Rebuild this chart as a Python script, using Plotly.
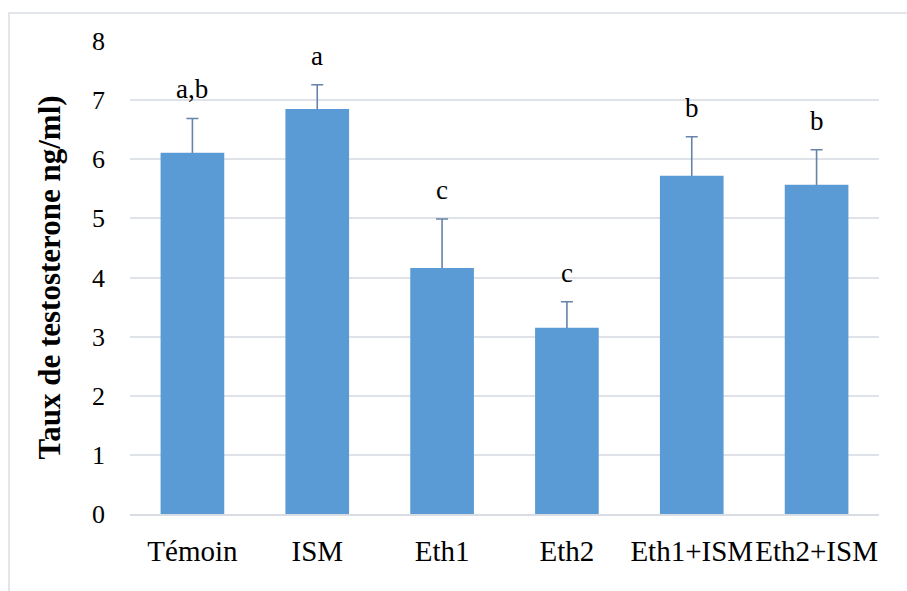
import plotly.graph_objects as go

categories = ["Témoin", "ISM", "Eth1", "Eth2", "Eth1+ISM", "Eth2+ISM"]
values = [6.11, 6.85, 4.16, 3.15, 5.72, 5.57]
errors = [0.58, 0.41, 0.83, 0.44, 0.66, 0.59]
letters = ["a,b", "a", "c", "c", "b", "b"]
y_ticks = [0, 1, 2, 3, 4, 5, 6, 7, 8]
y_title = "Taux de testosterone ng/ml)"

FONT = "Liberation Serif, Times New Roman, serif"
L, R, T, B = 130, 28, 41, 77
PW, PH = 907 - L - R, 591 - T - B

fig = go.Figure()
# error bars (drawn underneath the bars, so only the upper half shows)
fig.add_trace(go.Bar(
    x=categories, y=values, width=0.51,
    marker=dict(color="rgba(0,0,0,0)", line=dict(width=0)),
    error_y=dict(type="data", array=errors, symmetric=True,
                 color="#6683a8", thickness=1.6, width=6),
    xaxis="x", yaxis="y", hoverinfo="skip",
))
# opaque bars on an overlaying axis
fig.add_trace(go.Bar(
    x=categories, y=values, width=0.51,
    marker=dict(color="#5b9bd5", line=dict(width=0)),
    xaxis="x", yaxis="y2",
))

for c, v, e, t in zip(categories, values, errors, letters):
    fig.add_annotation(x=c, y=v + e, text=t, showarrow=False,
                       yanchor="bottom", yshift=12,
                       font=dict(family=FONT, size=27, color="#000000"))

fig.add_shape(type="rect", xref="paper", yref="paper",
              x0=(9 - L) / PW, x1=(930 - L) / PW,
              y0=(514 - 620) / PH, y1=1 + (41 - 13) / PH,
              line=dict(color="#d9dde3", width=1.5), layer="below")

fig.update_layout(
    width=907, height=591,
    margin=dict(l=L, r=R, t=T, b=B),
    paper_bgcolor="white", plot_bgcolor="white",
    showlegend=False,
    barmode="overlay",
    font=dict(family=FONT, color="#000000"),
    xaxis=dict(showline=True, linecolor="#d9dde3", linewidth=1.5,
               tickfont=dict(family=FONT, size=29), ticks="",
               ticklabelstandoff=10, range=[-0.5, 5.5]),
    yaxis=dict(range=[0, 8], tickvals=y_ticks, showgrid=True,
               gridcolor="#dfe3e8", gridwidth=1.5, zeroline=False,
               tickfont=dict(family=FONT, size=26), ticks="",
               ticklabelstandoff=24,
               title=dict(text="<b>" + y_title + "</b>",
                          font=dict(family=FONT, size=31), standoff=22)),
    yaxis2=dict(range=[0, 8], overlaying="y", showgrid=False,
                showticklabels=False, zeroline=False, ticks=""),
)

fig.write_html("out.html")
